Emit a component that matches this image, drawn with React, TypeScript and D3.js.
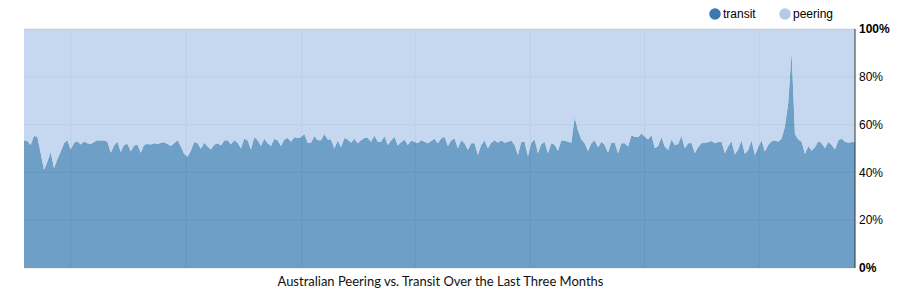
import * as d3 from "d3";

// transit share (%) of total traffic, sampled left to right across the period
const TRANSIT: number[] = [
  53.3, 53.1, 51.5, 55.2, 54.9, 48.0, 41.0, 44.5, 48.4, 41.7,
  45.5, 48.7, 52.2, 53.4, 49.6, 52.4, 53.0, 51.7, 52.9, 52.2,
  51.9, 52.7, 53.4, 53.3, 53.3, 52.8, 48.2, 51.3, 52.8, 48.5,
  51.6, 51.9, 48.8, 51.3, 51.6, 48.2, 51.6, 51.9, 51.7, 52.2,
  51.9, 52.4, 52.6, 51.9, 51.0, 52.2, 53.5, 50.8, 47.7, 46.6,
  49.1, 52.7, 52.2, 49.9, 52.4, 50.8, 49.6, 51.6, 52.2, 51.3,
  53.3, 53.5, 51.7, 53.5, 52.4, 50.1, 54.1, 53.5, 49.6, 54.7,
  53.5, 51.0, 54.1, 52.2, 51.0, 54.1, 53.3, 51.0, 53.8, 54.4,
  52.8, 54.7, 54.4, 54.7, 56.1, 52.4, 52.4, 55.2, 53.5, 53.5,
  56.1, 53.8, 53.8, 50.0, 53.3, 50.5, 54.4, 53.8, 52.4, 54.1,
  52.2, 53.5, 54.4, 54.4, 52.8, 55.4, 52.8, 52.8, 55.2, 51.5,
  53.3, 54.9, 51.3, 52.6, 53.8, 51.5, 53.3, 52.8, 52.2, 53.4,
  52.8, 52.2, 53.1, 54.1, 52.2, 54.2, 54.9, 51.0, 53.3, 54.2,
  50.1, 53.5, 52.2, 49.4, 52.2, 52.2, 47.3, 51.5, 53.3, 50.1,
  52.4, 53.5, 52.4, 53.5, 52.4, 52.8, 53.3, 51.5, 47.3,
  52.7, 52.8, 46.8, 52.4, 53.8, 48.0, 51.9, 52.7, 48.0, 52.2,
  51.6, 49.1, 53.3, 53.3, 52.8, 52.4, 63.0, 57.5, 53.8, 52.2,
  48.8, 52.2, 53.5, 50.5, 52.8, 51.5, 48.2, 52.4, 52.4, 48.0,
  52.2, 52.2, 50.8, 55.4, 54.9, 54.7, 56.3, 54.9, 53.8, 55.6,
  50.1, 51.0, 54.7, 50.8, 49.4, 53.8, 51.5, 51.9, 55.2, 50.1,
  52.2, 52.3, 48.0, 50.5, 52.2, 52.4, 52.6, 53.1, 52.2, 52.7,
  52.8, 48.0, 50.8, 53.0, 47.5, 49.6, 53.3, 47.7, 49.4, 53.3,
  47.3, 50.5, 53.5, 48.7, 51.5, 53.0, 53.3, 52.8, 54.1, 59.1,
  69.0, 90.5, 56.0, 53.8, 52.8, 47.7, 51.0, 49.1, 50.5, 53.0,
  52.2, 50.1, 52.7, 51.5, 49.6, 53.5, 54.1, 52.8, 52.4, 52.7,
  52.6,
];

const SERIES = ["transit", "peering"];
const COLORS = ["#3176ae", "#aec7e8"];
const LEGEND_COLORS = ["#3a78b0", "#b3c9e6"];
const Y_TICKS = [0, 0.2, 0.4, 0.6, 0.8, 1];
// vertical grid positions, in sample index units
const X_GRID = [14.1, 48.55, 83.2, 117.2, 151.7, 185.9, 220.3];
const TITLE = "Australian Peering vs. Transit Over the Last Three Months";

const W = 898, H = 295;
const M = { top: 29, right: 43, bottom: 27, left: 24 };

export default function App() {
  const rows = TRANSIT.map((t, i) => ({ i, transit: t, peering: 100 - t }));
  const stacked = d3.stack<any>().keys(SERIES).offset(d3.stackOffsetExpand)(rows);

  const x = d3.scaleLinear().domain([0, TRANSIT.length - 1]).range([M.left, W - M.right]);
  const y = d3.scaleLinear().domain([0, 1]).range([H - M.bottom, M.top]);

  const area = d3.area<any>()
    .x(d => x(d.data.i))
    .y0(d => y(d[0]))
    .y1(d => y(d[1]))
    .curve(d3.curveLinear);

  const x0 = x.range()[0], x1 = x.range()[1];
  const fmt = d3.format(".0%");

  return (
    <div style={{ position: "absolute", left: 0, top: 0 }}>
      <svg width={W} height={H} style={{ display: "block", fontFamily: "'Liberation Sans', Arial, sans-serif" }}>
        {Y_TICKS.map(t => (
          <line key={"h" + t} x1={x0} x2={x1} y1={y(t)} y2={y(t)} stroke="#e0e0e0" />
        ))}
        {X_GRID.map(g => (
          <line key={"v" + g} x1={x(g)} x2={x(g)} y1={y(1)} y2={y(0)} stroke="#e0e0e0" />
        ))}
        {stacked.map((s, k) => (
          <path key={s.key} d={area(s) ?? ""} fill={COLORS[k]} fillOpacity={0.7} />
        ))}
        <line x1={x1} x2={x1} y1={y(1)} y2={y(0)} stroke="#333" />
        {Y_TICKS.map(t => (
          <text key={"t" + t} x={x1 + 4} y={y(t)} dy="0.35em" fontSize={12}
            fontWeight={t === 0 || t === 1 ? "bold" : "normal"} fill="#000">{fmt(t)}</text>
        ))}
        {SERIES.map((s, k) => {
          const cx = k === 0 ? 715 : 785;
          return (
            <g key={s}>
              <circle cx={cx} cy={14} r={5} fill={LEGEND_COLORS[k]} stroke={LEGEND_COLORS[k]} strokeWidth={1.5} />
              <text x={cx + 8} y={14} dy="0.35em" fontSize={12} fill="#000">{s}</text>
            </g>
          );
        })}
        <text x={(x0 + x1) / 2 + 1} y={286} textAnchor="middle" fontSize={14}
          fontFamily="Lato, 'Open Sans', sans-serif" fill="#111"
          textLength={326} lengthAdjust="spacingAndGlyphs">{TITLE}</text>
      </svg>
    </div>
  );
}
